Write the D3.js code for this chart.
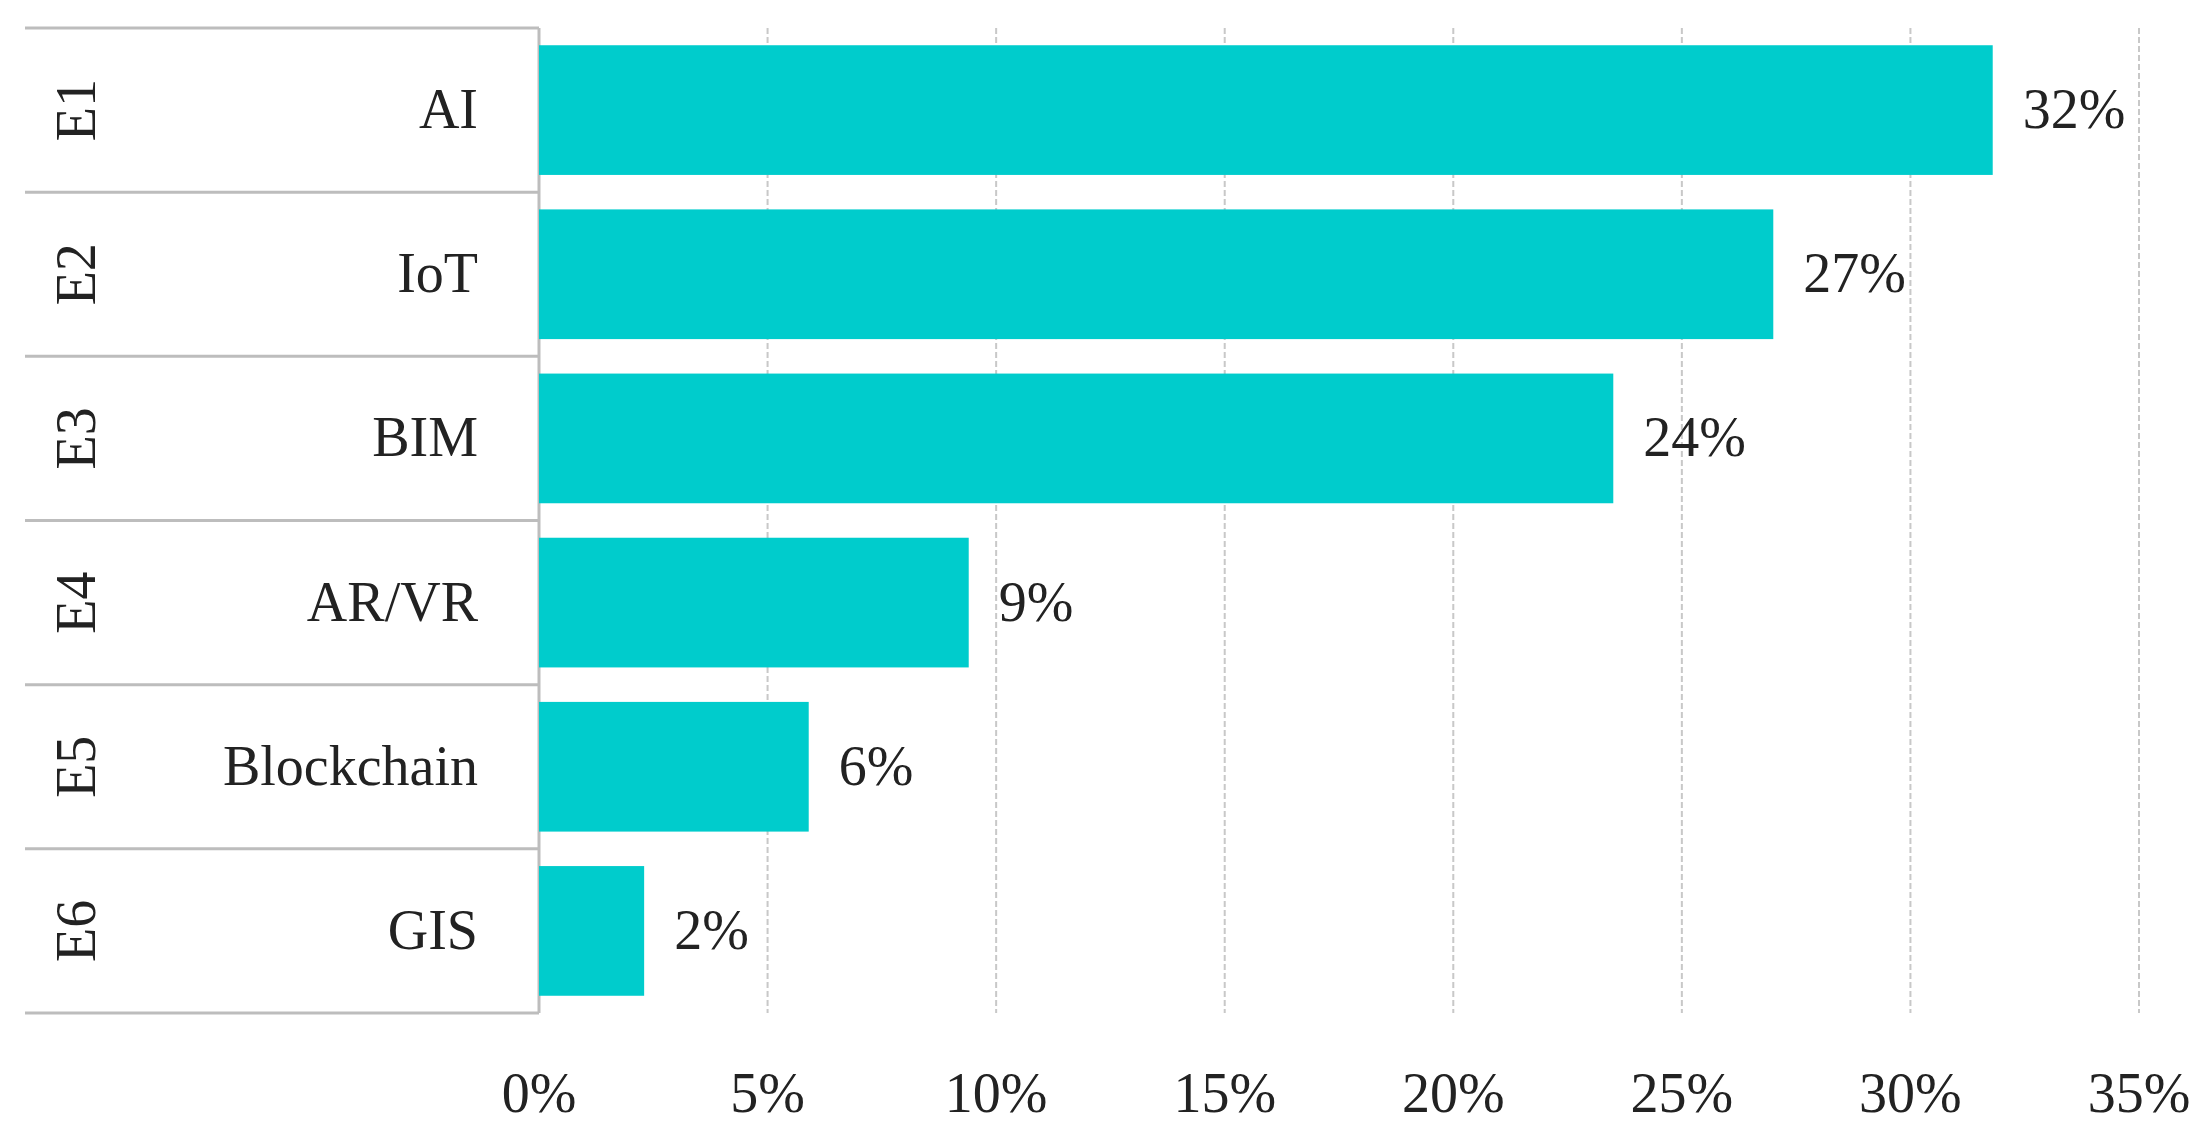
<!DOCTYPE html>
<html><head><meta charset="utf-8">
<script src="https://cdn.jsdelivr.net/npm/d3@7"></script>
<style>body{margin:0;background:#fff}text{font-family:"Liberation Serif","DejaVu Serif",serif;fill:#222}</style>
</head><body><svg id="c" width="2208" height="1148"></svg>
<script>
const codes = ["E1","E2","E3","E4","E5","E6"];
const categories = ["AI","IoT","BIM","AR/VR","Blockchain","GIS"];
const values = [31.8, 27.0, 23.5, 9.4, 5.9, 2.3];
const labels = ["32%","27%","24%","9%","6%","2%"];
const ticks = [0,5,10,15,20,25,30,35];

const svg = d3.select("#c");
const x0 = 539, x1 = 2139, yTop = 28, yBot = 1013;
const x = d3.scaleLinear().domain([0,35]).range([x0,x1]);
const y = d3.scaleBand().domain(codes).range([yTop,yBot]).paddingInner(0.21).paddingOuter(0.105);
const row = d3.scaleBand().domain(codes).range([yTop,yBot]);

svg.selectAll(".g").data(ticks.slice(1)).join("line")
  .attr("x1",d=>x(d)).attr("x2",d=>x(d)).attr("y1",yTop).attr("y2",yBot)
  .attr("stroke","#c8c8c8").attr("stroke-width",2).attr("stroke-dasharray","6,3");
svg.selectAll(".h").data(d3.range(codes.length+1)).join("line")
  .attr("x1",25).attr("x2",x0).attr("y1",i=>yTop+i*row.step()).attr("y2",i=>yTop+i*row.step())
  .attr("stroke","#bdbdbd").attr("stroke-width",3);
svg.append("line").attr("x1",x0).attr("x2",x0).attr("y1",yTop).attr("y2",yBot).attr("stroke","#bdbdbd").attr("stroke-width",3);

svg.selectAll(".b").data(values).join("rect")
  .attr("x",x0).attr("y",(d,i)=>y(codes[i])).attr("width",d=>x(d)-x0).attr("height",y.bandwidth())
  .attr("fill","#00cccc");
svg.selectAll(".v").data(values).join("text")
  .attr("x",d=>x(d)+30).attr("y",(d,i)=>y(codes[i])+y.bandwidth()/2+18)
  .attr("font-size",56).text((d,i)=>labels[i]);
svg.selectAll(".c").data(categories).join("text")
  .attr("x",478).attr("y",(d,i)=>row(codes[i])+row.bandwidth()/2+18)
  .attr("text-anchor","end").attr("font-size",56).text(d=>d);
svg.selectAll(".e").data(codes).join("text")
  .attr("transform",d=>`translate(95,${row(d)+row.bandwidth()/2}) rotate(-90)`)
  .attr("text-anchor","middle").attr("font-size",56).text(d=>d);
svg.selectAll(".t").data(ticks).join("text")
  .attr("x",d=>x(d)).attr("y",1112).attr("text-anchor","middle").attr("font-size",56).text(d=>d+"%");
</script></body></html>
